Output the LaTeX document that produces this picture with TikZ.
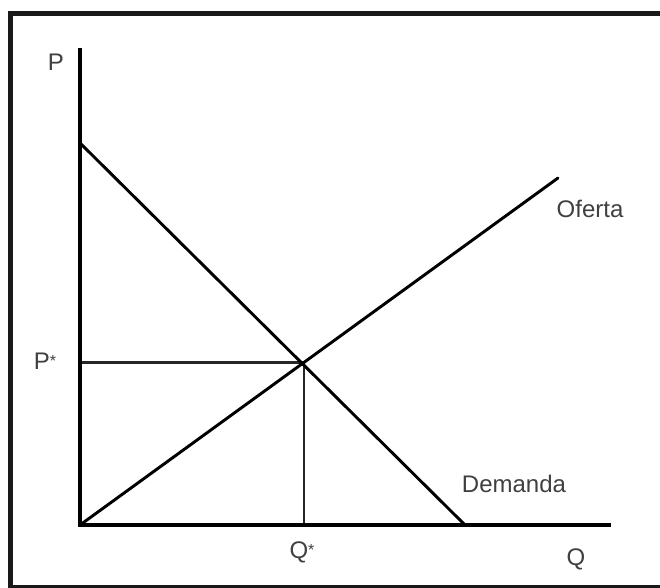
\documentclass[tikz,border=0pt]{standalone}
\usepackage{fontspec}
\setmainfont{Liberation Sans}
\begin{document}
\begin{tikzpicture}[x=0.75pt,y=-0.75pt,
  axis/.style={line width=3pt,black},
  curve/.style={line width=2.2pt,black},
  guide/.style={line width=1.8pt,black!85},
  lbl/.style={text=black!75,font=\fontsize{18}{20}\selectfont,inner sep=0pt},
  frame/.style={fill=black!90,draw=none}]
\useasboundingbox (0,0) rectangle (660,588);
\fill[white] (0,0) rectangle (660,588);
% frame
\fill[frame] (8,11) rectangle (660,16);
\fill[frame] (8,11) rectangle (13,588);
\fill[frame] (8,585) rectangle (660,588);
% coordinates
\coordinate (O) at (80,525);
\coordinate (Ptop) at (80,48);
\coordinate (Qend) at (611,525);
\coordinate (D0) at (80,143);
\coordinate (D1) at (465,525);
\coordinate (S1) at (558,178);
\coordinate (E) at (304,362.5);
\coordinate (Pstar) at (80,362.5);
\coordinate (Qstar) at (304,525);
% guides
\draw[guide] (Pstar) -- (E);
\draw[guide] (E) -- (Qstar);
% curves
\draw[curve] (D0) -- (D1);
\draw[curve,line cap=round] (O) -- (S1);
% axes
\draw[axis] (Ptop) -- (O) -- (Qend);
% labels
\node[lbl] (lP) at (56,62) {P};
\node[lbl] (lPs) at (45,361) {P\raisebox{2pt}{\fontsize{12}{12}\selectfont*}};
\node[lbl] (lQs) at (302,552) {Q\raisebox{2pt}{\fontsize{12}{12}\selectfont*}};
\node[lbl] (lQ) at (576,559) {Q};
\node[lbl] (lOf) at (590,209) {Oferta};
\node[lbl] (lDe) at (514,484) {Demanda};
\end{tikzpicture}
\end{document}
